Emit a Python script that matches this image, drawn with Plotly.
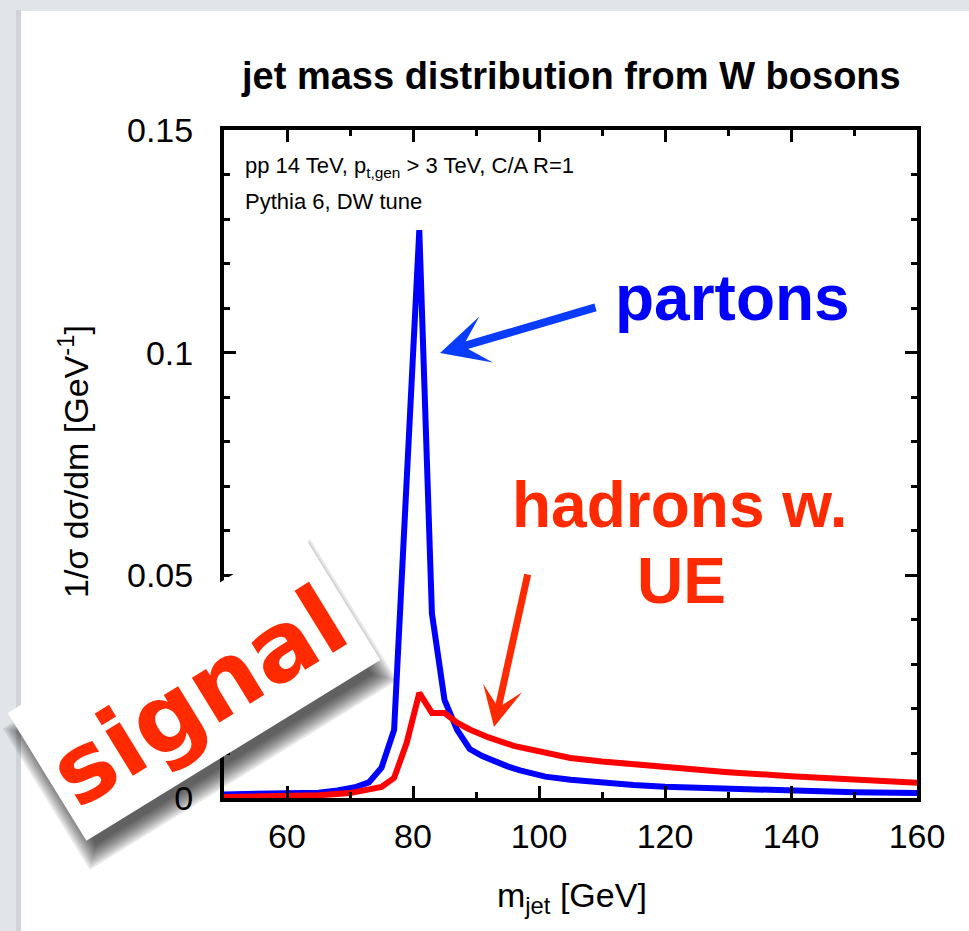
import math
import plotly.graph_objects as go

# ---------------- data ----------------
m_partons = [50, 55, 60, 65, 68, 71, 73, 75, 77, 81, 83, 85, 87, 89, 91, 93, 95, 97,
             101, 105, 110, 115, 120, 130, 140, 150, 160]
v_partons = [0.0008, 0.0009, 0.0010, 0.0012, 0.0017, 0.0025, 0.0035, 0.0068, 0.0153,
             0.1275, 0.0415, 0.0220, 0.0153, 0.0110, 0.0094, 0.0082, 0.0071, 0.0062,
             0.0048, 0.0041, 0.0034, 0.0029, 0.0025, 0.0020, 0.0016, 0.0013, 0.0011]

m_hadrons = [50, 55, 60, 65, 70, 73, 75, 77, 79, 81, 83, 85, 87, 89, 92, 96,
             101, 105, 110, 115, 120, 130, 140, 150, 160]
v_hadrons = [0.0002, 0.0003, 0.0004, 0.0006, 0.0011, 0.0018, 0.0025, 0.0045, 0.0124,
             0.0236, 0.0191, 0.0191, 0.0169, 0.0154, 0.0136, 0.0117,
             0.0101, 0.0090, 0.0082, 0.0076, 0.0069, 0.0058, 0.0049, 0.0041, 0.0034]

x_ticks = [60, 80, 100, 120, 140, 160]
x_ticktext = ["60", "80", "100", "120", "140", "160"]
y_ticks = [0, 0.05, 0.1, 0.15]
y_ticktext = ["0", "0.05", "0.1", "0.15"]

# ---------------- layout geometry ----------------
W, H = 969, 931
L, R, T, B = 224, 917, 130, 798
PW, PH = R - L, B - T


def px(xp):
    return (xp - L) / PW


def py(yp):
    return (B - yp) / PH


FONT = "Liberation Sans, Arial, Helvetica, sans-serif"

fig = go.Figure()
fig.add_trace(go.Scatter(x=m_partons, y=v_partons, mode="lines",
                         line=dict(color="#0000ff", width=6), showlegend=False))
fig.add_trace(go.Scatter(x=m_hadrons, y=v_hadrons, mode="lines",
                         line=dict(color="#ff0000", width=6), showlegend=False))

axis_common = dict(showline=True, linecolor="black", linewidth=4, mirror="allticks",
                   ticks="inside", ticklen=12, tickwidth=3, tickcolor="black",
                   showgrid=False, zeroline=False,
                   tickfont=dict(family=FONT, size=34, color="black"))

fig.update_xaxes(range=[50, 160], tickvals=x_ticks, ticktext=x_ticktext,
                 minor=dict(ticks="inside", ticklen=6, tickwidth=3, tickcolor="black",
                            dtick=10, tick0=50),
                 ticklabelstandoff=5, **axis_common)
fig.update_yaxes(range=[0, 0.15], tickvals=y_ticks, ticktext=y_ticktext,
                 minor=dict(ticks="inside", ticklen=6, tickwidth=3, tickcolor="black",
                            dtick=0.01, tick0=0),
                 ticklabelstandoff=20, **axis_common)

shapes = []
# slide background: white panel over grey frame
shapes.append(dict(type="rect", xref="paper", yref="paper", layer="below",
                   x0=px(0), x1=px(W), y0=py(0), y1=py(H),
                   fillcolor="#e1e4e8", line=dict(width=0)))
shapes.append(dict(type="rect", xref="paper", yref="paper", layer="below",
                   x0=px(16), x1=px(21), y0=py(10), y1=py(H),
                   fillcolor="#d0d4da", line=dict(width=0)))
shapes.append(dict(type="rect", xref="paper", yref="paper", layer="below",
                   x0=px(21), x1=px(W), y0=py(11), y1=py(H),
                   fillcolor="white", line=dict(width=0)))

# "signal" sticker (rotated white card with a soft shadow)
cx, cy = 194.0, 686.5
ang = math.atan2(181, 294)
ux, uy = math.cos(ang), -math.sin(ang)
vx, vy = math.sin(ang), math.cos(ang)
hl, hs = 172.5, 75.0


def card_path(ox, oy, grow):
    a, b = hl + grow, hs + grow
    pts = []
    for sa, sb in [(-1, -1), (1, -1), (1, 1), (-1, 1)]:
        xp = cx + ox + sa * a * ux + sb * b * vx
        yp = cy + oy + sa * a * uy + sb * b * vy
        pts.append((px(xp), py(yp)))
    d = "M " + " L ".join(f"{p[0]:.5f},{p[1]:.5f}" for p in pts) + " Z"
    return d


for i in range(10):
    grow = 8 - 2.0 * i
    shapes.append(dict(type="path", xref="paper", yref="paper", layer="above",
                       path=card_path(6, 18, grow), fillcolor="rgba(0,0,0,0.09)",
                       line=dict(width=0)))
shapes.append(dict(type="path", xref="paper", yref="paper", layer="above",
                   path=card_path(0, 0, 0), fillcolor="white", line=dict(width=0)))

annotations = []
# title
annotations.append(dict(xref="paper", yref="paper", x=px(571), y=py(76),
                        text="<b>jet mass distribution from W bosons</b>", showarrow=False,
                        xanchor="center", yanchor="middle",
                        font=dict(family=FONT, size=38, color="black")))
# axis titles
annotations.append(dict(xref="paper", yref="paper", x=px(572), y=py(897),
                        text="m<sub>jet</sub> [GeV]", showarrow=False,
                        xanchor="center", yanchor="middle",
                        font=dict(family=FONT, size=34, color="black")))
annotations.append(dict(xref="paper", yref="paper", x=px(73), y=py(462),
                        text="1/σ dσ/dm [GeV<sup>-1</sup>]", showarrow=False, textangle=-90,
                        xanchor="center", yanchor="middle",
                        font=dict(family=FONT, size=34, color="black")))
# info text
annotations.append(dict(xref="paper", yref="paper", x=px(243), y=py(167),
                        text="pp 14 TeV, p<sub>t,gen</sub> &gt; 3 TeV, C/A R=1", showarrow=False,
                        xanchor="left", yanchor="middle",
                        font=dict(family=FONT, size=22, color="black")))
annotations.append(dict(xref="paper", yref="paper", x=px(243), y=py(202),
                        text="Pythia 6, DW tune", showarrow=False,
                        xanchor="left", yanchor="middle",
                        font=dict(family=FONT, size=22, color="black")))
# labels
annotations.append(dict(xref="paper", yref="paper", x=px(732), y=py(298),
                        text="<b>partons</b>", showarrow=False,
                        xanchor="center", yanchor="middle",
                        font=dict(family=FONT, size=64, color="#0000ff")))
annotations.append(dict(xref="paper", yref="paper", x=px(679), y=py(505),
                        text="<b>hadrons w.</b>", showarrow=False,
                        xanchor="center", yanchor="middle",
                        font=dict(family=FONT, size=64, color="#ff2a00")))
annotations.append(dict(xref="paper", yref="paper", x=px(681), y=py(581),
                        text="<b>UE</b>", showarrow=False,
                        xanchor="center", yanchor="middle",
                        font=dict(family=FONT, size=64, color="#ff2a00")))
# arrows
annotations.append(dict(xref="paper", yref="paper", x=px(440), y=py(353),
                        ax=157, ay=-46, text="", showarrow=True,
                        arrowhead=3, arrowsize=1.0, arrowwidth=8, arrowcolor="#0a3cff",
                        standoff=0, startstandoff=0))
annotations.append(dict(xref="paper", yref="paper", x=px(494), y=py(727),
                        ax=34, ay=-154, text="", showarrow=True,
                        arrowhead=3, arrowsize=0.95, arrowwidth=7, arrowcolor="#ff2a00",
                        standoff=0, startstandoff=0))
# sticker text
annotations.append(dict(xref="paper", yref="paper", x=px(198), y=py(697),
                        text="<b>signal</b>", showarrow=False, textangle=-math.degrees(ang),
                        xanchor="center", yanchor="middle",
                        font=dict(family="DejaVu Sans, Verdana, sans-serif", size=96,
                                  color="#ff2a00")))

fig.update_layout(width=W, height=H, margin=dict(l=L, r=W - R, t=T, b=H - B),
                  paper_bgcolor="#e1e4e8", plot_bgcolor="white",
                  shapes=shapes, annotations=annotations, showlegend=False)

fig.write_html("out.html", config={"displayModeBar": False},
               post_script="document.body.style.margin='0px';"
                           "document.body.style.overflow='hidden';")
